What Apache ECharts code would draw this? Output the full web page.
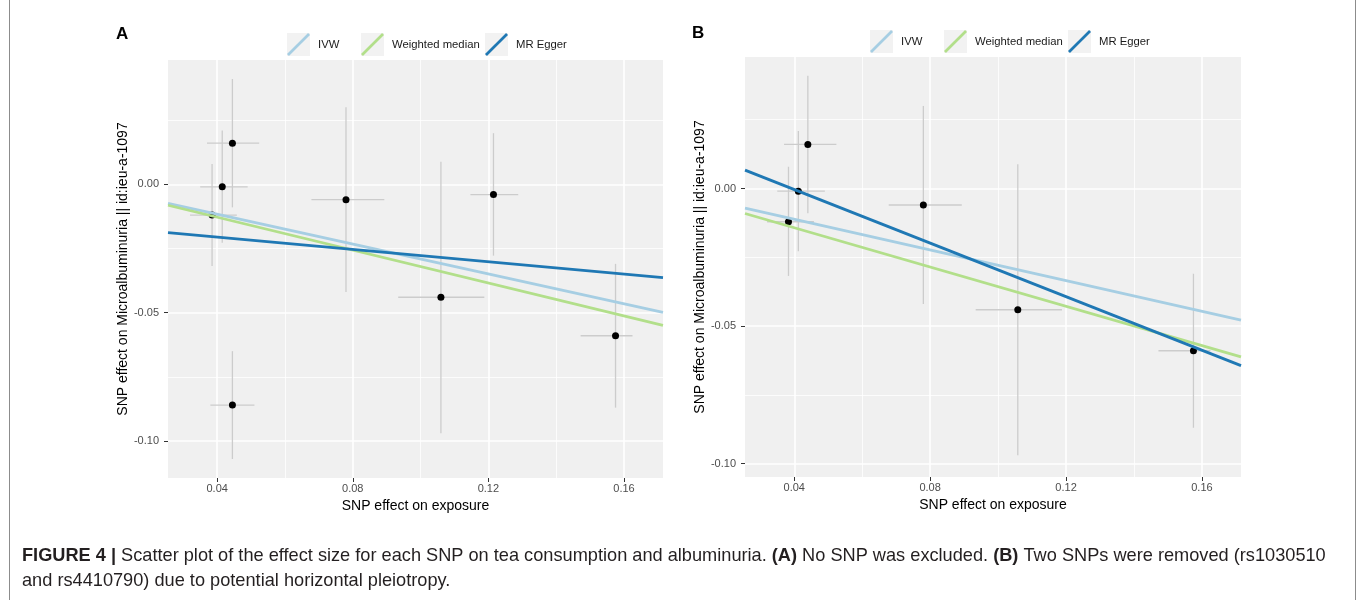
<!DOCTYPE html>
<html>
<head>
<meta charset="utf-8">
<script src="https://cdn.jsdelivr.net/npm/echarts@6/dist/echarts.min.js"></script>
<style>
html,body{margin:0;padding:0;background:#ffffff;}
#chart{width:1357px;height:600px;}
</style>
</head>
<body>
<div id="chart"></div>
<script>
// ---------- Data ----------
const methods = ['IVW', 'Weighted median', 'MR Egger'];
const methodColors = ['#a6cee3', '#b2df8a', '#1f78b4'];

// Panel A: all 8 SNPs
const aX    = [0.0445, 0.0415, 0.0385, 0.0445, 0.0780, 0.1215, 0.1060, 0.1575];
const aY    = [0.0160, -0.0010, -0.0120, -0.0860, -0.0060, -0.0040, -0.0440, -0.0590];
const aXLo  = [0.0370, 0.0350, 0.0320, 0.0380, 0.0678, 0.1147, 0.0934, 0.1472];
const aXHi  = [0.0524, 0.0490, 0.0458, 0.0510, 0.0893, 0.1288, 0.1188, 0.1625];
const aYLo  = [-0.0090, -0.0228, -0.0318, -0.1070, -0.0420, -0.0278, -0.0970, -0.0870];
const aYHi  = [0.0410, 0.0209, 0.0079, -0.0650, 0.0300, 0.0199, 0.0088, -0.0310];
const aSlope     = [-0.291, -0.3205, -0.120];
const aIntercept = [0.0, 0.0, -0.0158];

// Panel B: 6 SNPs (two removed)
const bX    = [0.0440, 0.0412, 0.0383, 0.0780, 0.1058, 0.1575];
const bY    = [0.0160, -0.0010, -0.0121, -0.0060, -0.0441, -0.0590];
const bXLo  = [0.0370, 0.0350, 0.0320, 0.0678, 0.0934, 0.1472];
const bXHi  = [0.0524, 0.0490, 0.0458, 0.0893, 0.1188, 0.1625];
const bYLo  = [-0.0090, -0.0228, -0.0318, -0.0420, -0.0970, -0.0870];
const bYHi  = [0.0410, 0.0209, 0.0079, 0.0300, 0.0088, -0.0310];
const bSlope     = [-0.279, -0.357, -0.487];
const bIntercept = [0.0, 0.0, 0.0191];

// Axis ranges and tick labels
const xRange  = [0.0255, 0.1715];
const aYRange = [-0.1144, 0.0484];
const bYRange = [-0.1049, 0.0478];
const xMajor = [0.04, 0.08, 0.12, 0.16];
const xMinor = [0.06, 0.10, 0.14];
const yMajor = [-0.10, -0.05, 0.00];
const yMinor = [-0.075, -0.025, 0.025];

const xTitle = 'SNP effect on exposure';
const yTitle = 'SNP effect on Microalbuminuria || id:ieu-a-1097';

// ---------- Helpers ----------
const FONT = '"Liberation Sans", Arial, Helvetica, sans-serif';
function rows(x, y, xlo, xhi, ylo, yhi) {
  return x.map((v, i) => [v, y[i], xlo[i], xhi[i], ylo[i], yhi[i]]);
}
function errRender(params, api) {
  const x = api.value(0), y = api.value(1);
  const h1 = api.coord([api.value(2), y]);
  const h2 = api.coord([api.value(3), y]);
  const v1 = api.coord([x, api.value(4)]);
  const v2 = api.coord([x, api.value(5)]);
  const st = {stroke: '#cccccc', lineWidth: 1.3};
  return {type: 'group', children: [
    {type: 'line', shape: {x1: h1[0], y1: h1[1], x2: h2[0], y2: h2[1]}, style: st},
    {type: 'line', shape: {x1: v1[0], y1: v1[1], x2: v2[0], y2: v2[1]}, style: st}
  ]};
}
function majorX(grid) {
  return {
    gridIndex: grid, type: 'value', min: xRange[0], max: xRange[1], position: 'bottom',
    axisLine: {show: false, onZero: false},
    axisTick: {show: true, length: 4, lineStyle: {color: '#333333', width: 1}, customValues: xMajor},
    axisLabel: {customValues: xMajor, formatter: v => v.toFixed(2), color: '#4d4d4d', fontSize: 11, margin: 5, fontFamily: FONT},
    splitLine: {show: true, lineStyle: {color: '#ffffff', width: 1.6}},
    name: xTitle, nameLocation: 'middle', nameGap: 16,
    nameTextStyle: {color: '#000000', fontSize: 14, fontFamily: FONT, verticalAlign: 'top'}
  };
}
function minorX(grid) {
  return {
    gridIndex: grid, type: 'value', min: xRange[0], max: xRange[1], position: 'top',
    axisLine: {show: false, onZero: false},
    axisTick: {show: false, customValues: xMinor},
    axisLabel: {show: false, customValues: xMinor},
    splitLine: {show: true, lineStyle: {color: '#ffffff', width: 0.8}}
  };
}
function majorY(grid, range) {
  return {
    gridIndex: grid, type: 'value', min: range[0], max: range[1], position: 'left',
    axisLine: {show: false, onZero: false},
    axisTick: {show: true, length: 4, lineStyle: {color: '#333333', width: 1}, customValues: yMajor},
    axisLabel: {customValues: yMajor, formatter: v => v.toFixed(2), color: '#4d4d4d', fontSize: 11, margin: 9, fontFamily: FONT},
    splitLine: {show: true, lineStyle: {color: '#ffffff', width: 1.6}},
    name: yTitle, nameLocation: 'middle', nameGap: 38,
    nameTextStyle: {color: '#000000', fontSize: 14, fontFamily: FONT}
  };
}
function minorY(grid, range) {
  return {
    gridIndex: grid, type: 'value', min: range[0], max: range[1], position: 'right',
    axisLine: {show: false, onZero: false},
    axisTick: {show: false, customValues: yMinor},
    axisLabel: {show: false, customValues: yMinor},
    splitLine: {show: true, lineStyle: {color: '#ffffff', width: 0.8}}
  };
}
function panelSeries(xAxisIndex, yAxisIndex, x, y, xlo, xhi, ylo, yhi, slope, intercept) {
  const out = [];
  out.push({
    type: 'custom', xAxisIndex, yAxisIndex, renderItem: errRender,
    data: rows(x, y, xlo, xhi, ylo, yhi), encode: {x: 0, y: 1}, z: 2, silent: true
  });
  out.push({
    type: 'scatter', xAxisIndex, yAxisIndex, symbol: 'circle', symbolSize: 7,
    itemStyle: {color: '#000000', opacity: 1}, data: x.map((v, i) => [v, y[i]]), z: 3, silent: true
  });
  methods.forEach((m, k) => {
    out.push({
      type: 'line', name: m, xAxisIndex, yAxisIndex, showSymbol: false, symbol: 'none',
      color: methodColors[k],
      lineStyle: {color: methodColors[k], width: 2.8},
      itemStyle: {color: methodColors[k]},
      data: xRange.map(xv => [xv, intercept[k] + slope[k] * xv]),
      z: 4 + k, silent: true, animation: false
    });
  });
  return out;
}

// legend: one legend per key so each key box lines up with its grey background
const ICON = 'path://M0,22 L2,24 L24,2 L22,0 Z';
const legendKeysA = [287, 361, 485];
const legendKeysB = [870, 944, 1068];
const legendTopA = 33, legendTopB = 30, KEY = 23;
function legendsFor(lefts, top) {
  return methods.map((m, k) => ({
    left: lefts[k], top: top, orient: 'horizontal', padding: 0,
    itemWidth: KEY, itemHeight: KEY, selectedMode: false, z: 5,
    itemStyle: {borderWidth: 0},
    data: [{name: m, icon: ICON}],
    textStyle: {color: '#1a1a1a', fontSize: 11.3, fontFamily: FONT, padding: [0, 0, 0, 3]}
  }));
}
function keyRects(lefts, top) {
  return lefts.map(l => ({type: 'rect', left: l, top: top, z: 1, silent: true,
    shape: {width: KEY, height: KEY}, style: {fill: '#f2f2f2'}}));
}

const caption1 = '{b|FIGURE 4 |} Scatter plot of the effect size for each SNP on tea consumption and albuminuria. {b|(A)} No SNP was excluded. {b|(B)} Two SNPs were removed (rs1030510';
const caption2 = 'and rs4410790) due to potential horizontal pleiotropy.';

const chart = echarts.init(document.getElementById('chart'), null, {renderer: 'canvas'});
const option = {
  animation: false,
  backgroundColor: '#ffffff',
  textStyle: {fontFamily: FONT},
  grid: [
    {left: 168, top: 60, width: 495, height: 418, show: true, backgroundColor: '#f0f0f0', borderWidth: 0, containLabel: false},
    {left: 745, top: 57, width: 496, height: 420, show: true, backgroundColor: '#f0f0f0', borderWidth: 0, containLabel: false}
  ],
  xAxis: [majorX(0), minorX(0), majorX(1), minorX(1)],
  yAxis: [majorY(0, aYRange), minorY(0, aYRange), majorY(1, bYRange), minorY(1, bYRange)],
  legend: legendsFor(legendKeysA, legendTopA).concat(legendsFor(legendKeysB, legendTopB)),
  graphic: [
    {type: 'rect', left: 7, top: -5, z: 0, silent: true, shape: {width: 1346, height: 612},
      style: {fill: 'none', stroke: '#8c8c8c', lineWidth: 1}},
    {type: 'text', left: 116, top: 26, z: 5, style: {text: 'A', font: 'bold 17px ' + FONT, fill: '#000'}},
    {type: 'text', left: 692, top: 25, z: 5, style: {text: 'B', font: 'bold 17px ' + FONT, fill: '#000'}},
    {type: 'text', left: 22, top: 547, z: 5, style: {
      text: caption1, font: '18.2px ' + FONT, fill: '#231f20',
      rich: {b: {fontWeight: 'bold', fontSize: 18.2, fontFamily: FONT, fill: '#231f20'}}}},
    {type: 'text', left: 22, top: 572, z: 5, style: {text: caption2, font: '18.2px ' + FONT, fill: '#231f20'}}
  ].concat(keyRects(legendKeysA, legendTopA)).concat(keyRects(legendKeysB, legendTopB)),
  series: panelSeries(0, 0, aX, aY, aXLo, aXHi, aYLo, aYHi, aSlope, aIntercept)
    .concat(panelSeries(2, 2, bX, bY, bXLo, bXHi, bYLo, bYHi, bSlope, bIntercept))
};
chart.setOption(option);
</script>
</body>
</html>
